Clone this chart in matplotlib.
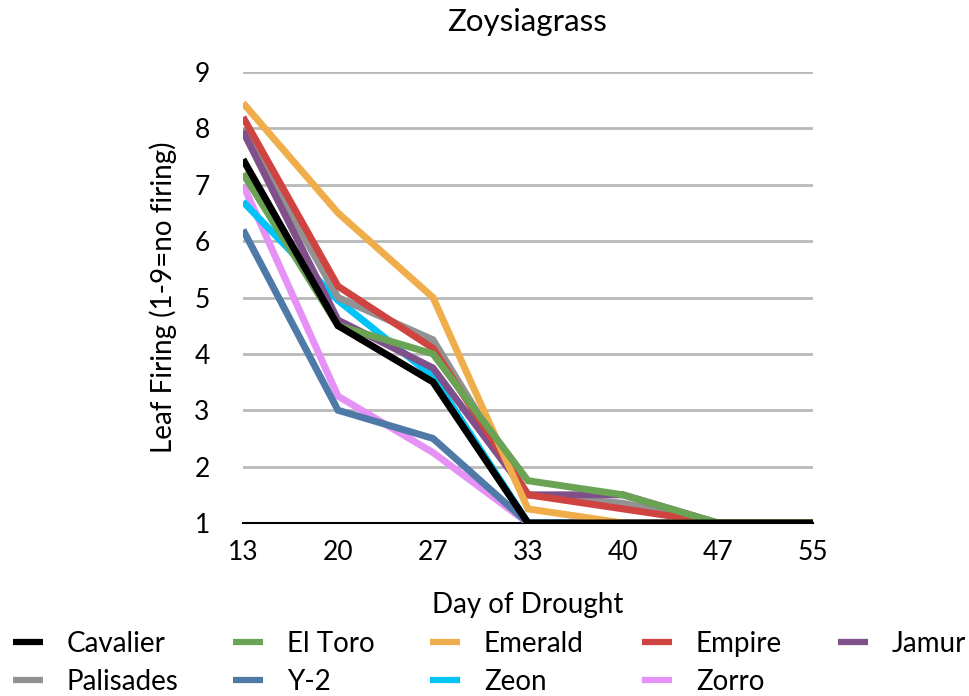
import matplotlib.pyplot as plt
import numpy as np

days = ["13", "20", "27", "33", "40", "47", "55"]

cavalier = [7.45, 4.5, 3.5, 1.0, 1.0, 1.0, 1.0]
el_toro = [7.2, 4.5, 4.0, 1.75, 1.5, 1.0, 1.0]
emerald = [8.45, 6.5, 5.0, 1.25, 1.0, 1.0, 1.0]
empire = [8.2, 5.2, 4.1, 1.5, 1.25, 1.0, 1.0]
jamur = [7.95, 4.6, 3.75, 1.5, 1.5, 1.0, 1.0]
palisades = [8.0, 5.0, 4.25, 1.5, 1.35, 1.0, 1.0]
y2 = [6.2, 3.0, 2.5, 1.0, 1.0, 1.0, 1.0]
zeon = [6.7, 4.95, 3.6, 1.0, 1.0, 1.0, 1.0]
zorro = [7.0, 3.25, 2.25, 1.0, 1.0, 1.0, 1.0]

names = ["Cavalier", "El Toro", "Emerald", "Empire", "Jamur",
         "Palisades", "Y-2", "Zeon", "Zorro"]
series = [cavalier, el_toro, emerald, empire, jamur,
          palisades, y2, zeon, zorro]
colors = ["#000000", "#6aa354", "#efae4b", "#cf4340", "#80508a",
          "#929292", "#4f7aa8", "#00c4f7", "#e591f5"]
# stacking order of the lines (higher is drawn on top)
zorders = [12, 11, 10, 9, 8, 7, 6, 5, 4]

plt.rcParams['font.family'] = ['Lato', 'DejaVu Sans']

W, H = 969, 696
fig = plt.figure(figsize=(W / 100, H / 100), dpi=100)
ax = fig.add_axes([243 / W, 1 - 523 / H, 570 / W, 451 / H])

x = np.arange(len(days))
handles = {}
for name, vals, c, z in zip(names, series, colors, zorders):
    handles[name], = ax.plot(x, vals, color=c, lw=5, label=name, zorder=z,
                             solid_joinstyle="miter", solid_capstyle="butt")

ax.set_xlim(0, len(days) - 1)
ax.set_ylim(1, 9)
ax.set_xticks(x)
ax.set_xticklabels(days)
ax.set_yticks(range(1, 10))
ax.tick_params(length=0, labelsize=19)
ax.tick_params(axis="x", pad=12)
ax.tick_params(axis="y", pad=24)
ax.yaxis.grid(True, color="#b9b9b9", lw=2)
ax.set_axisbelow(True)
for s in ["top", "right", "left"]:
    ax.spines[s].set_visible(False)
ax.spines["bottom"].set_color("black")
ax.spines["bottom"].set_linewidth(1.5)

fig.text(527 / W, 1 - 22 / H, "Zoysiagrass", fontsize=22.5,
         ha="center", va="center")
ax.set_ylabel("Leaf Firing (1-9=no firing)", fontsize=20)
ax.yaxis.set_label_coords(-0.115, 0.5)
ax.set_xlabel("Day of Drought", fontsize=20)
ax.xaxis.set_label_coords(0.5, -0.152)

# legend laid out row by row, each entry at its own spot
col_x = [13, 233, 430, 642, 838]
row_y = [644, 682]
for i, name in enumerate(names):
    r, c = divmod(i, 5)
    leg = fig.legend([handles[name]], [name], loc="center left",
                     bbox_to_anchor=(col_x[c] / W, 1 - row_y[r] / H),
                     frameon=False, fontsize=20, handlelength=1.08,
                     handletextpad=0.86, borderpad=0, borderaxespad=0)
    leg.legend_handles[0].set_linewidth(4.5)

fig.savefig("out.png", dpi=100)
